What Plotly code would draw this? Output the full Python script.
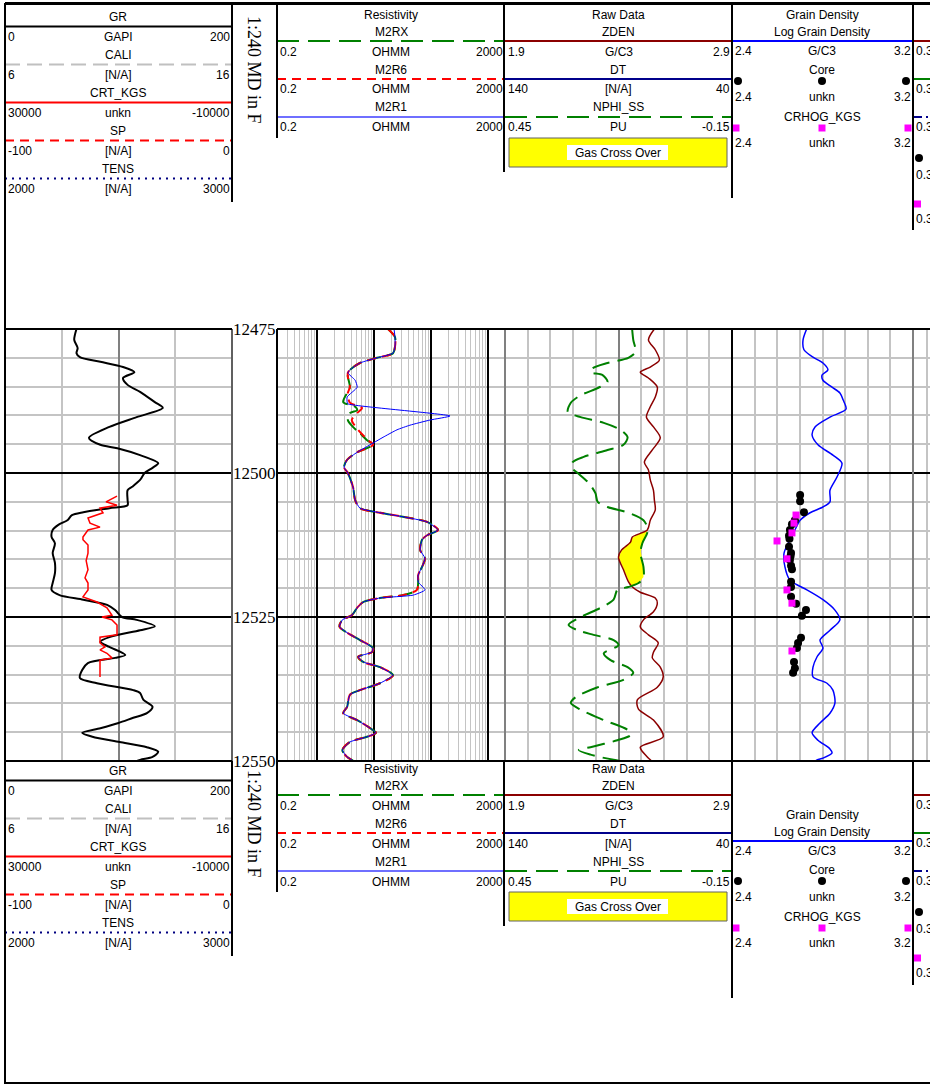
import numpy as np
import plotly.graph_objects as go

W, H = 930, 1085

# ---------------- data ----------------
GR_DEPTH = [12475.0, 12476.9, 12478.3, 12479.2, 12479.9, 12480.7, 12481.6, 12482.5, 12483.5, 12484.7,
            12485.9, 12487.7, 12488.7, 12490.3, 12492.0, 12493.9, 12495.1, 12495.7, 12496.9, 12498.3,
            12499.1, 12500.0, 12501.2, 12502.4, 12503.0, 12504.7, 12505.6, 12506.1, 12506.8, 12507.3,
            12508.2, 12509.0, 12509.9, 12511.1, 12512.2, 12513.9, 12515.6, 12517.4, 12519.1, 12520.3,
            12521.2, 12522.0, 12522.9, 12523.8, 12525.0, 12525.5, 12526.6, 12527.3, 12528.5, 12529.3,
            12530.2, 12531.6, 12532.1, 12533.0, 12534.2, 12535.6, 12536.5, 12537.7, 12538.2, 12539.4,
            12540.6, 12541.7, 12542.5, 12543.4, 12544.3, 12545.1, 12545.8, 12546.7, 12547.6, 12548.4,
            12549.3, 12549.8, 12550.6]
GR = [63, 61, 64, 63, 66, 84, 104, 114, 104, 108,
      119, 132, 139, 116, 92, 74, 84, 99, 119, 135,
      130, 123, 119, 112, 108, 108, 108, 92, 69, 59,
      55, 47, 42, 41, 44, 42, 44, 44, 42, 41,
      48, 69, 90, 97, 103, 116, 132, 119, 92, 84,
      92, 106, 97, 73, 68, 66, 81, 113, 119, 122,
      130, 125, 113, 100, 84, 68, 77, 101, 125, 135,
      130, 119, 108]

CRT_DEPTH = [12504.0, 12505.0, 12505.6, 12506.1, 12506.9, 12507.8, 12508.7, 12509.4, 12509.9, 12511.1,
             12511.6, 12512.5, 12513.9, 12515.2, 12516.8, 12518.2, 12519.1, 12520.3, 12521.5, 12522.4,
             12523.4, 12524.1, 12524.7, 12525.0, 12525.5, 12526.4, 12528.1, 12528.5, 12529.5, 12530.2,
             12530.7, 12531.3, 12532.1, 12532.5, 12535.4]
CRT = [10260, 12200, 10260, 13260, 12730, 15375, 15020, 13260, 15375, 16260,
       16260, 15375, 15375, 15700, 15375, 15900, 15375, 15375, 16260, 13790,
       12030, 11500, 11150, 12910, 11150, 10260, 10260, 13260, 13260, 12380,
       13260, 12030, 11150, 13260, 13260]

M2RX_DEPTH = [12475.0, 12476.4, 12478.1, 12479.2, 12480.0, 12480.9, 12482.1, 12482.6, 12483.3, 12485.1,
              12486.1, 12487.7, 12488.5, 12489.1, 12489.6, 12490.8, 12492.0, 12493.1, 12494.3, 12495.1,
              12496.4, 12497.7, 12499.0, 12500.0, 12502.4, 12504.7, 12506.1, 12506.9, 12507.6, 12508.5,
              12509.9, 12510.8, 12511.6, 12513.4, 12514.8, 12516.3, 12517.7, 12518.9, 12520.3, 12521.2,
              12521.7, 12522.4, 12523.4, 12524.7, 12525.5, 12526.7, 12527.8, 12529.0, 12530.4, 12531.1,
              12531.9, 12532.8, 12533.7, 12535.1, 12536.5, 12537.7, 12538.5, 12540.6, 12541.7, 12542.9,
              12544.3, 12545.1, 12545.8, 12546.7, 12548.1, 12549.3, 12549.8, 12550.5]
M2RX = [17.7, 23.5, 23.5, 21.7, 11.4, 5.7, 3.8, 3.5, 3.5, 3.8,
        3.4, 2.9, 4.7, 5.1, 3.8, 3.5, 4.3, 5.7, 7.6, 9.7,
        5.1, 3.4, 3.0, 3.5, 4.3, 4.7, 5.7, 12.8, 32.4, 86,
        134, 86, 70, 65, 79, 70, 60, 60, 57, 32.4,
        12.8, 6.5, 5.1, 4.1, 2.8, 2.5, 3.5, 5.7, 9.7, 9.3,
        5.3, 6.5, 12.8, 21.7, 12.8, 5.7, 3.8, 3.4, 2.9, 5.1,
        8.6, 10.9, 7.6, 3.8, 2.8, 3.4, 4.1, 5.0]

M2R6_DEPTH = [12475.0, 12476.4, 12478.1, 12479.2, 12480.0, 12480.9, 12482.1, 12482.6, 12483.3, 12485.1,
              12486.1, 12487.8, 12488.7, 12489.6, 12490.8, 12492.5, 12494.3, 12495.1,
              12496.4, 12497.7, 12499.0, 12500.0, 12502.4, 12504.7, 12506.1, 12506.9, 12507.6, 12508.5,
              12509.9, 12510.8, 12511.6, 12513.4, 12514.8, 12516.3, 12517.7, 12518.9, 12520.3, 12521.2,
              12521.7, 12522.4, 12523.4, 12524.7, 12525.5, 12526.7, 12527.8, 12529.0, 12530.4, 12531.1,
              12531.9, 12532.8, 12533.7, 12535.1, 12536.5, 12537.7, 12538.5, 12540.6, 12541.7, 12542.9,
              12544.3, 12545.1, 12545.8, 12546.7, 12548.1, 12549.3, 12549.8, 12550.5]
M2R6 = [17.7, 23.5, 23.5, 21.7, 11.4, 5.7, 3.8, 3.5, 3.5, 3.8,
        3.5, 3.8, 6.2, 5.1, 4.1, 5.3, 7.9, 9.7,
        5.1, 3.4, 3.0, 3.5, 4.3, 4.7, 5.7, 12.8, 32.4, 86,
        134, 86, 70, 65, 79, 70, 60, 60, 57, 32.4,
        12.8, 6.5, 5.1, 4.1, 2.8, 2.5, 3.5, 5.7, 9.7, 9.3,
        5.3, 6.5, 12.8, 21.7, 12.8, 5.7, 3.8, 3.4, 2.9, 5.1,
        8.6, 10.9, 7.6, 3.8, 2.8, 3.4, 4.1, 5.0]

M2R1_DEPTH = [12475.0, 12476.4, 12478.1, 12479.2, 12480.0, 12480.9, 12482.1, 12482.6, 12483.9, 12485.1,
              12486.8, 12487.7, 12488.0, 12490.1, 12490.8, 12491.7, 12492.5, 12493.8, 12494.8, 12496.4,
              12497.7, 12499.0, 12500.0, 12502.4, 12504.7, 12506.1, 12506.9, 12507.6, 12508.5, 12509.9,
              12510.8, 12511.6, 12513.4, 12514.8, 12516.3, 12517.7, 12518.9, 12520.3, 12521.2, 12521.7,
              12522.4, 12523.4, 12524.7, 12525.5, 12526.7, 12527.8, 12529.0, 12530.4, 12531.1, 12531.9,
              12532.8, 12533.7, 12535.1, 12536.5, 12537.7, 12538.5, 12540.6, 12541.7, 12542.9, 12544.3,
              12545.1, 12545.8, 12546.7, 12548.1, 12549.3, 12549.8, 12550.5]
M2R1 = [22.6, 23.5, 23.5, 21.7, 11.4, 5.7, 3.8, 3.5, 4.7, 5.1,
        3.4, 3.4, 3.5, 217, 97, 43, 25.5, 14.5, 9.7, 5.1,
        3.4, 3.0, 3.5, 4.3, 4.7, 5.7, 12.8, 32.4, 86, 134,
        86, 70, 65, 79, 70, 60, 60, 79, 49, 12.8,
        6.5, 5.1, 4.1, 2.8, 2.5, 3.5, 5.7, 9.7, 9.3, 5.3,
        6.5, 12.8, 21.7, 12.8, 5.7, 3.8, 3.4, 2.9, 5.1, 8.6,
        10.9, 7.6, 3.8, 2.8, 3.4, 4.1, 5.0]

ZDEN_DEPTH = [12475.0, 12476.9, 12478.6, 12480.4, 12481.6, 12482.5, 12483.5, 12485.1, 12486.8, 12488.5,
              12490.3, 12492.0, 12493.9, 12496.0, 12498.1, 12499.5, 12501.2, 12503.0, 12504.7, 12506.4,
              12508.2, 12509.9, 12511.1, 12512.0, 12513.4, 12514.6, 12516.8, 12518.9, 12519.8, 12520.7,
              12521.7, 12522.6, 12524.1, 12525.5, 12526.7, 12528.1, 12529.5, 12531.1, 12532.1, 12533.7,
              12535.4, 12537.2, 12539.4, 12541.0, 12542.9, 12545.8, 12547.6, 12549.3, 12549.8, 12550.5]
ZDEN = [2.558, 2.532, 2.562, 2.580, 2.540, 2.496, 2.532, 2.571, 2.562, 2.540,
        2.523, 2.554, 2.584, 2.549, 2.514, 2.532, 2.540, 2.554, 2.558, 2.562,
        2.540, 2.527, 2.461, 2.453, 2.413, 2.400, 2.422, 2.444, 2.461, 2.496,
        2.562, 2.571, 2.554, 2.510, 2.496, 2.532, 2.575, 2.554, 2.549, 2.584,
        2.597, 2.571, 2.483, 2.488, 2.554, 2.597, 2.496, 2.527, 2.540, 2.560]

NPHI_DEPTH = [12475.0, 12476.9, 12479.0, 12480.0, 12480.9, 12481.8, 12482.5, 12483.0, 12484.2, 12485.2,
              12486.5, 12487.8, 12489.4, 12490.3, 12491.3, 12492.5, 12493.8, 12495.1, 12496.0, 12497.2,
              12498.1, 12499.1, 12500.0, 12501.7, 12503.5, 12505.0, 12505.9, 12506.9, 12508.2, 12509.4,
              12510.4, 12512.2, 12513.9, 12516.3, 12518.2, 12519.1, 12519.8, 12520.3, 12522.0, 12523.4,
              12525.0, 12526.4, 12527.3, 12528.1, 12529.0, 12529.9, 12531.3, 12532.5, 12533.7, 12534.7,
              12535.9, 12537.2, 12538.9, 12539.9, 12541.1, 12542.9, 12544.6, 12545.5, 12546.4, 12547.6,
              12548.1, 12548.9, 12549.8, 12550.5]
NPHI = [0.114, 0.111, 0.105, 0.124, 0.179, 0.218, 0.224, 0.192, 0.179, 0.203,
        0.250, 0.276, 0.284, 0.250, 0.189, 0.145, 0.126, 0.137, 0.179, 0.242,
        0.271, 0.274, 0.258, 0.229, 0.211, 0.205, 0.179, 0.124, 0.084, 0.074,
        0.074, 0.087, 0.092, 0.084, 0.084, 0.097, 0.124, 0.153, 0.163, 0.197,
        0.250, 0.282, 0.258, 0.216, 0.163, 0.150, 0.189, 0.171, 0.126, 0.111,
        0.137, 0.205, 0.263, 0.276, 0.250, 0.189, 0.126, 0.118, 0.153, 0.224,
        0.255, 0.224, 0.163, 0.100]

LGD_DEPTH = [12475.0, 12476.9, 12478.6, 12479.9, 12480.9, 12482.1, 12483.0, 12483.9, 12485.1, 12486.1,
             12487.3, 12488.9, 12490.3, 12492.0, 12493.4, 12495.1, 12496.9, 12498.3, 12500.7, 12503.0,
             12505.0, 12505.9, 12506.9, 12508.2, 12509.9, 12511.6, 12513.9, 12516.3, 12518.6, 12519.4,
             12520.3, 12522.0, 12523.8, 12525.5, 12527.3, 12529.0, 12530.4, 12531.9, 12533.7, 12535.4,
             12536.5, 12537.7, 12539.9, 12541.7, 12543.4, 12545.1, 12546.4, 12547.9, 12548.6, 12549.5,
             12549.8, 12550.5]
LGD = [2.730, 2.714, 2.718, 2.758, 2.802, 2.824, 2.798, 2.802, 2.842, 2.877,
       2.891, 2.904, 2.833, 2.767, 2.754, 2.780, 2.846, 2.886, 2.864, 2.833,
       2.833, 2.802, 2.745, 2.701, 2.678, 2.656, 2.630, 2.634, 2.656, 2.687,
       2.731, 2.802, 2.855, 2.877, 2.833, 2.789, 2.802, 2.776, 2.758, 2.758,
       2.820, 2.846, 2.855, 2.833, 2.789, 2.754, 2.780, 2.833, 2.842, 2.802,
       2.776, 2.750]

CORE_DEPTH = [12503.8, 12504.9, 12506.8, 12508.2, 12508.9, 12509.9, 12510.9, 12511.4, 12512.8, 12513.9,
              12514.4, 12515.1, 12516.1, 12516.7, 12518.9, 12519.8, 12521.5, 12522.7, 12523.8, 12524.8,
              12528.6, 12529.5, 12530.4, 12532.8, 12533.9, 12534.7]
CORE = [2.701, 2.701, 2.718, 2.678, 2.665, 2.656, 2.652, 2.654, 2.652, 2.661,
        2.659, 2.656, 2.661, 2.665, 2.661, 2.661, 2.661, 2.683, 2.727, 2.709,
        2.705, 2.692, 2.687, 2.674, 2.678, 2.670]

CRHOG_DEPTH = [12507.3, 12508.7, 12510.4, 12511.8, 12514.9, 12520.3, 12522.6, 12530.9]
CRHOG = [2.683, 2.674, 2.665, 2.599, 2.643, 2.643, 2.665, 2.665]

DEPTH_LABELS = [12475, 12500, 12525, 12550]
SCALE_TEXT = "1:240 MD in F"

T1_NAMES = ["GR", "CALI", "CRT_KGS", "SP", "TENS"]
T1_LEFT = ["0", "6", "30000", "-100", "2000"]
T1_UNIT = ["GAPI", "[N/A]", "unkn", "[N/A]", "[N/A]"]
T1_RIGHT = ["200", "16", "-10000", "0", "3000"]

T2_TITLE = "Resistivity"
T2_NAMES = ["M2RX", "M2R6", "M2R1"]
T2_LEFT = ["0.2", "0.2", "0.2"]
T2_UNIT = ["OHMM", "OHMM", "OHMM"]
T2_RIGHT = ["2000", "2000", "2000"]

T3_TITLE = "Raw Data"
T3_NAMES = ["ZDEN", "DT", "NPHI_SS"]
T3_LEFT = ["1.9", "140", "0.45"]
T3_UNIT = ["G/C3", "[N/A]", "PU"]
T3_RIGHT = ["2.9", "40", "-0.15"]
FILL_LABEL = "Gas Cross Over"

T4_TITLE = "Grain Density"
T4_NAMES = ["Log Grain Density", "Core", "CRHOG_KGS"]
T4_LEFT = ["2.4", "2.4", "2.4"]
T4_UNIT = ["G/C3", "unkn", "unkn"]
T4_RIGHT = ["3.2", "3.2", "3.2"]
T5_LABEL = "0.3"

# ---------------- styles ----------------
T1_STYLE = [("black", "solid", 2), ("#c0c0c0", "15px,7px", 2), ("red", "solid", 2),
            ("red", "9px,6px", 2), ("#000080", "2px,5px", 2)]
T2_STYLE = [("#008000", "22px,9px", 2), ("red", "9px,6px", 2), ("#6f6fff", "solid", 2)]
T3_STYLE = [("#8b0000", "solid", 2), ("#00008b", "solid", 2), ("#008000", "22px,9px", 2)]

def X(px):
    return px / W

def Y(py):
    return 1 - py / H

shapes = []
annotations = []

def line(x0, y0, x1, y1, color="black", width=2, dash="solid"):
    shapes.append(dict(type="line", xref="paper", yref="paper", x0=X(x0), y0=Y(y0), x1=X(x1), y1=Y(y1),
                       line=dict(color=color, width=width, dash=dash), layer="above"))

def rect(x0, y0, x1, y1, fill, lc=None, lw=0):
    shapes.append(dict(type="rect", xref="paper", yref="paper", x0=X(x0), y0=Y(y0), x1=X(x1), y1=Y(y1),
                       fillcolor=fill, line=dict(color=lc or fill, width=lw), layer="above"))

def dot(cx, cy, r, fill):
    shapes.append(dict(type="circle", xref="paper", yref="paper", x0=X(cx - r), y0=Y(cy + r), x1=X(cx + r),
                       y1=Y(cy - r), fillcolor=fill, line=dict(width=0), layer="above"))

def text(x, y, s, anchor="center", size=12, family="Liberation Sans", angle=0):
    annotations.append(dict(xref="paper", yref="paper", x=X(x), y=Y(y), text=s, showarrow=False,
                            xanchor=anchor, yanchor="middle", borderpad=0, textangle=angle,
                            font=dict(family=family, size=size, color="black")))

def entry(x0, x1, yn, name, style, left, unit, right):
    mid = (x0 + x1) / 2
    text(mid, yn, name)
    line(x0, yn + 9.5, x1, yn + 9.5, style[0], style[2], style[1])
    text(x0 + 2, yn + 20, left, "left")
    text(mid, yn + 20, unit)
    text(x1 - 1, yn + 20, right, "right")

def headers(off, off4):
    # track 1
    for i in range(5):
        entry(5, 232, 17 + off + 38 * i, T1_NAMES[i], T1_STYLE[i], T1_LEFT[i], T1_UNIT[i], T1_RIGHT[i])
    text(254, 70 + off, SCALE_TEXT, size=18, family="Liberation Serif", angle=90)
    # track 2
    text(391, 15 + off, T2_TITLE)
    for i in range(3):
        entry(277, 505, 31.5 + off + 38 * i, T2_NAMES[i], T2_STYLE[i], T2_LEFT[i], T2_UNIT[i], T2_RIGHT[i])
    # track 3
    text(618, 15 + off, T3_TITLE)
    for i in range(3):
        entry(505, 732, 31.5 + off + 38 * i, T3_NAMES[i], T3_STYLE[i], T3_LEFT[i], T3_UNIT[i], T3_RIGHT[i])
    rect(509, 138 + off, 727, 167 + off, "#ffff00", "#606060", 1)
    rect(567, 145 + off, 668, 160 + off, "white")
    text(617.5, 152.5 + off, FILL_LABEL)
    # track 4
    text(822, 15 + off4, T4_TITLE)
    text(822, 31.5 + off4, T4_NAMES[0])
    line(732, 41 + off4, 913, 41 + off4, "#0000ff", 2)
    text(734, 50.5 + off4, T4_LEFT[0], "left"); text(822, 50.5 + off4, T4_UNIT[0]); text(912, 50.5 + off4, T4_RIGHT[0], "right")
    text(822, 69.5 + off4, T4_NAMES[1])
    for cx in (738, 822, 906):
        dot(cx, 81 + off4, 4, "black")
    text(734, 97 + off4, T4_LEFT[1], "left"); text(822, 97 + off4, T4_UNIT[1]); text(912, 97 + off4, T4_RIGHT[1], "right")
    text(822, 116.5 + off4, T4_NAMES[2])
    for cx in (736, 822, 908):
        rect(cx - 3.5, 124.5 + off4, cx + 3.5, 131.5 + off4, "#ff00ff")
    text(734, 143 + off4, T4_LEFT[2], "left"); text(822, 143 + off4, T4_UNIT[2]); text(912, 143 + off4, T4_RIGHT[2], "right")
    # track 5 (cut off at the right edge, as in the original)
    line(914, 41 + off, 930, 41 + off, "#8b0000", 2)
    line(914, 79 + off, 930, 79 + off, "#008000", 2)
    line(914, 117 + off, 930, 117 + off, "#00008b", 2, "8px,4px,2px,4px")
    for yy in (51, 89, 127, 175, 219):
        text(915, yy + off, T5_LABEL, "left")
    dot(919, 158 + off, 4, "black")
    rect(914, 200.5 + off, 921, 207.5 + off, "#ff00ff")

headers(0, 0)
headers(754, 800)

# header vertical separators
for x, y1 in ((232, 202), (277, 138), (504, 172), (732, 198), (913, 230)):
    line(x, 3, x, y1, "black", 2)
for x, y1 in ((232, 956), (277, 892), (504, 926), (732, 998), (913, 985)):
    line(x, 761, x, y1, "black", 2)

# data-area frame
for x, c in ((5, "black"), (232, "#606060"), (277, "black"), (505, "#808080"), (732, "black"), (913, "#808080")):
    line(x, 329, x, 761, c, 2)
for yy in (329, 761):
    line(5, yy, 232, yy, "black", 2)
    line(277, yy, 930, yy, "black", 2)

# outer frame
line(5, 3, 5, 1084, "black", 2)
line(5, 3.5, 930, 3.5, "black", 3)
line(5, 1083, 930, 1083, "black", 2)

# depth labels
for d in DEPTH_LABELS:
    annotations.append(dict(xref="paper", yref="y", x=X(276.5), y=d, text=str(d), showarrow=False,
                            xanchor="right", yanchor="middle", borderpad=0,
                            font=dict(family="Liberation Serif", size=17, color="black")))

# ---------------- figure ----------------
fig = go.Figure()
SM = 0.8

# gas crossover fill (ZDEN left of NPHI)
dg = np.arange(12475, 12550.001, 0.05)
z = np.interp(dg, ZDEN_DEPTH, ZDEN)
n = np.interp(dg, NPHI_DEPTH, NPHI)
n_on_z = 1.9 + (0.45 - n) / 0.6 * 1.0
mask = z < n_on_z
idx = np.where(mask)[0]
if len(idx):
    segs = np.split(idx, np.where(np.diff(idx) > 1)[0] + 1)
    for s in segs:
        xs = list(z[s]) + list(n_on_z[s][::-1])
        ys = list(dg[s]) + list(dg[s][::-1])
        fig.add_trace(go.Scatter(x=xs, y=ys, xaxis="x3", yaxis="y3", mode="lines", fill="toself",
                                 fillcolor="#ffff00", line=dict(width=0), hoverinfo="skip"))

fig.add_trace(go.Scatter(x=GR, y=GR_DEPTH, xaxis="x", yaxis="y", mode="lines",
                         line=dict(color="black", width=2, shape="spline", smoothing=SM)))
fig.add_trace(go.Scatter(x=CRT, y=CRT_DEPTH, xaxis="x6", yaxis="y", mode="lines",
                         line=dict(color="red", width=1.5)))

fig.add_trace(go.Scatter(x=M2RX, y=M2RX_DEPTH, xaxis="x2", yaxis="y2", mode="lines",
                         line=dict(color="#008000", width=2, dash="14px,6px", shape="spline", smoothing=SM)))
fig.add_trace(go.Scatter(x=M2R6, y=M2R6_DEPTH, xaxis="x2", yaxis="y2", mode="lines",
                         line=dict(color="red", width=2, dash="9px,6px", shape="spline", smoothing=SM)))
fig.add_trace(go.Scatter(x=M2R1, y=M2R1_DEPTH, xaxis="x2", yaxis="y2", mode="lines",
                         line=dict(color="#0000ff", width=1, shape="spline", smoothing=0.5)))

fig.add_trace(go.Scatter(x=ZDEN, y=ZDEN_DEPTH, xaxis="x3", yaxis="y3", mode="lines",
                         line=dict(color="#8b0000", width=1.5, shape="spline", smoothing=SM)))
fig.add_trace(go.Scatter(x=NPHI, y=NPHI_DEPTH, xaxis="x7", yaxis="y3", mode="lines",
                         line=dict(color="#008000", width=2, dash="18px,8px", shape="spline", smoothing=SM)))

fig.add_trace(go.Scatter(x=LGD, y=LGD_DEPTH, xaxis="x4", yaxis="y4", mode="lines",
                         line=dict(color="#0000ff", width=1.5, shape="spline", smoothing=SM)))
fig.add_trace(go.Scatter(x=CORE, y=CORE_DEPTH, xaxis="x4", yaxis="y4", mode="markers",
                         marker=dict(color="black", size=8, symbol="circle")))
fig.add_trace(go.Scatter(x=CRHOG, y=CRHOG_DEPTH, xaxis="x4", yaxis="y4", mode="markers",
                         marker=dict(color="#ff00ff", size=7, symbol="square")))

ydom = [Y(761), Y(329)]
LIGHT = "#c4c4c4"

def yax(anchor):
    return dict(domain=ydom, range=[12550, 12475], anchor=anchor, showticklabels=False, ticks="",
                tickmode="linear", tick0=12475, dtick=25, showgrid=True, gridcolor="black", gridwidth=2,
                zeroline=False, showline=False,
                minor=dict(tick0=12475, dtick=5, showgrid=True, gridcolor=LIGHT, gridwidth=1.5))

def xax(dom, rng, **kw):
    d = dict(domain=[X(dom[0]), X(dom[1])], range=rng, anchor=kw.pop("anchor"), showticklabels=False,
             ticks="", zeroline=False, showline=False)
    d.update(kw)
    return d

log_minor = [m * 10.0 ** e for e in range(-1, 4) for m in range(2, 10) if 0.2 < m * 10.0 ** e < 2000]

fig.update_layout(
    width=W, height=H, margin=dict(l=0, r=0, t=0, b=0), showlegend=False,
    paper_bgcolor="white", plot_bgcolor="white",
    xaxis=xax((5, 232), [0, 200], anchor="y", tickmode="array", tickvals=[100], gridcolor="#808080",
              gridwidth=2, minor=dict(tickmode="array", tickvals=[50, 150], showgrid=True,
                                      gridcolor=LIGHT, gridwidth=1.5)),
    xaxis2=xax((277, 505), [np.log10(0.2), np.log10(2000)], anchor="y2", type="log", tickmode="array",
               tickvals=[1, 10, 100, 1000], gridcolor="black", gridwidth=2,
               minor=dict(tickmode="array", tickvals=log_minor, showgrid=True, gridcolor=LIGHT, gridwidth=1)),
    xaxis3=xax((505, 732), [1.9, 2.9], anchor="y3", tickmode="array", tickvals=[2.4], gridcolor="#808080",
               gridwidth=2, minor=dict(tick0=1.9, dtick=0.1, showgrid=True, gridcolor=LIGHT, gridwidth=1.5)),
    xaxis4=xax((732, 913), [2.4, 3.2], anchor="y4", tickmode="linear", tick0=2.4, dtick=0.1,
               gridcolor=LIGHT, gridwidth=1.5),
    xaxis5=xax((913, 930), [0, 1], anchor="y5", tickmode="array", tickvals=[0.8], gridcolor=LIGHT,
               gridwidth=1.5),
    xaxis6=dict(overlaying="x", range=[30000, -10000], anchor="y", visible=False),
    xaxis7=dict(overlaying="x3", range=[0.45, -0.15], anchor="y3", visible=False),
    yaxis=yax("x"), yaxis2=yax("x2"), yaxis3=yax("x3"), yaxis4=yax("x4"), yaxis5=yax("x5"),
    shapes=shapes, annotations=annotations,
)
# keep empty track 5 axis alive
fig.add_trace(go.Scatter(x=[None], y=[None], xaxis="x5", yaxis="y5", mode="lines"))

fig.write_html("out.html", config={"displayModeBar": False},
               post_script="document.body.style.margin='0';document.body.style.overflow='hidden';")
